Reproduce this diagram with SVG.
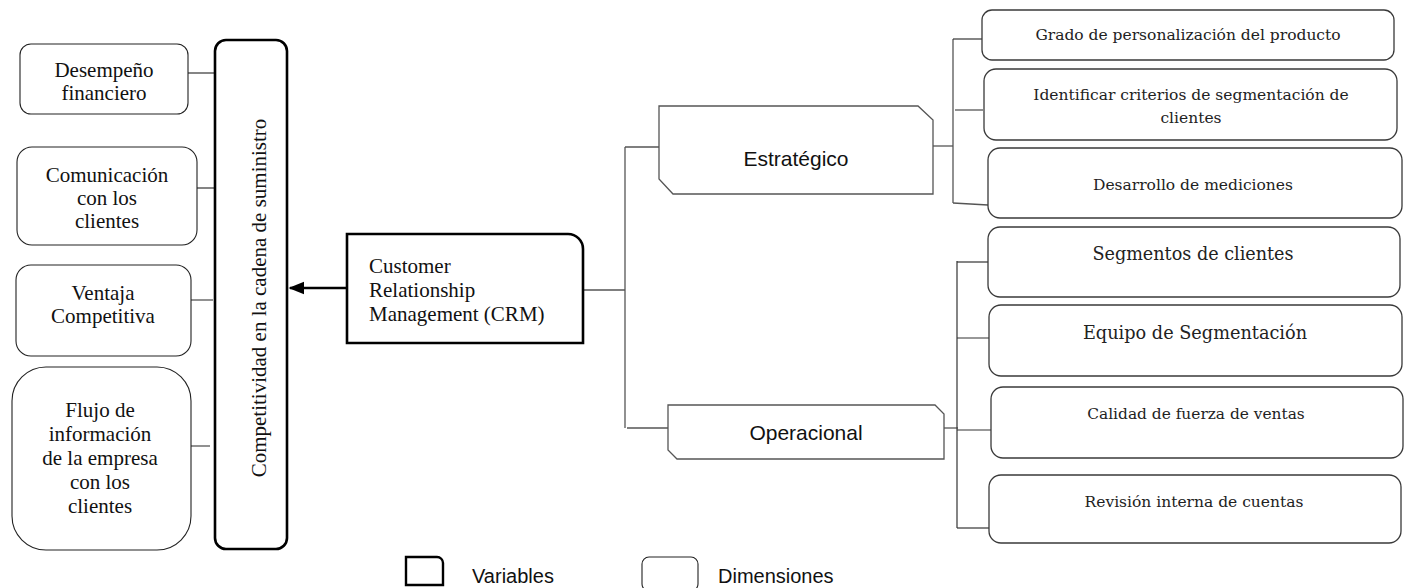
<svg xmlns="http://www.w3.org/2000/svg" width="1409" height="588" viewBox="0 0 1409 588">
<style>
.dim{fill:#fff;stroke:#222;stroke-width:1.1}
.dimr{fill:#fff;stroke:#3a3a3a;stroke-width:1.3}
.var{fill:#fff;stroke:#000;stroke-width:2.6}
.hex{fill:#fff;stroke:#555;stroke-width:1.3}
.tm{font-family:"Liberation Serif","Times New Roman",serif;font-size:21px;fill:#111}
.ar{font-family:"Liberation Sans",Arial,sans-serif;fill:#111}
.cb{font-family:"DejaVu Serif","Liberation Serif",serif;fill:#222;text-anchor:middle}
.c{text-anchor:middle}
.ln{stroke:#333;stroke-width:1.2;fill:none}
.lg{stroke:#555;stroke-width:1.3;fill:none}
</style>
<defs>
<marker id="ah" viewBox="0 0 10 10" refX="9" refY="5" markerWidth="6" markerHeight="6" orient="auto" markerUnits="strokeWidth">
<path d="M0,1 L10,5 L0,9 z" fill="#000"/>
</marker>
</defs>
<rect width="1409" height="588" fill="#fff"/>

<g id="connectors">
<line class="ln" x1="188" y1="73" x2="215" y2="73"/>
<line class="ln" x1="194" y1="188" x2="217" y2="188"/>
<line class="lg" x1="188" y1="300" x2="213" y2="300"/>
<line class="lg" x1="185" y1="446" x2="210" y2="446"/>
<line x1="347" y1="288" x2="290" y2="288" stroke="#000" stroke-width="2.6" marker-end="url(#ah)"/>
<line class="lg" x1="583" y1="290" x2="625" y2="290"/>
<line class="lg" x1="625" y1="147" x2="625" y2="428"/>
<line class="lg" x1="625" y1="147" x2="659" y2="147"/>
<line class="lg" x1="627" y1="428" x2="668" y2="428"/>
<line class="lg" x1="933" y1="146" x2="953" y2="146"/>
<line class="lg" x1="953" y1="39" x2="953" y2="203"/>
<line class="ln" x1="953" y1="39" x2="983" y2="39"/>
<line class="lg" x1="955" y1="110" x2="983" y2="110"/>
<line class="lg" x1="953" y1="203" x2="988" y2="205"/>
<line class="lg" x1="944" y1="428" x2="958" y2="428"/>
<line class="ln" x1="957" y1="261" x2="957" y2="528"/>
<line class="ln" x1="957" y1="262" x2="988" y2="262"/>
<line class="ln" x1="957" y1="338" x2="992" y2="338"/>
<line class="ln" x1="957" y1="430" x2="991" y2="430"/>
<line class="ln" x1="957" y1="528" x2="989" y2="528"/>
</g>

<g id="desempeno">
<rect class="dim" x="20" y="44" width="168" height="70" rx="11"/>
<text class="tm c" x="104" y="77">Desempeño</text>
<text class="tm c" x="104" y="100">financiero</text>
</g>
<g id="comunicacion">
<rect class="dim" x="17" y="147" width="180" height="98" rx="15"/>
<text class="tm c" x="107" y="182">Comunicación</text>
<text class="tm c" x="107" y="205">con los</text>
<text class="tm c" x="107" y="228">clientes</text>
</g>
<g id="ventaja">
<rect class="dim" x="16" y="265" width="175" height="91" rx="15"/>
<text class="tm c" x="103" y="300">Ventaja</text>
<text class="tm c" x="103" y="323">Competitiva</text>
</g>
<g id="flujo">
<rect class="dim" x="12" y="367" width="179" height="183" rx="34"/>
<text class="tm c" x="100" y="417">Flujo de</text>
<text class="tm c" x="100" y="441">información</text>
<text class="tm c" x="100" y="465">de la empresa</text>
<text class="tm c" x="100" y="489">con los</text>
<text class="tm c" x="100" y="513">clientes</text>
</g>
<g id="competitividad">
<rect class="var" x="215" y="40" width="72" height="509" rx="11"/>
<text class="tm c" transform="translate(266,298) rotate(-90)">Competitividad en la cadena de suministro</text>
</g>
<g id="crm">
<path class="var" d="M347,234 H568 A15,15 0 0 1 583,249 V343 H347 Z"/>
<text class="tm" x="369" y="273">Customer</text>
<text class="tm" x="369" y="297">Relationship</text>
<text class="tm" x="369" y="321">Management (CRM)</text>
</g>
<g id="estrategico">
<path class="hex" d="M659,106 H918 L933,120 V194 H673 L659,179 Z"/>
<text class="ar c" x="796" y="166" font-size="21">Estratégico</text>
</g>
<g id="operacional">
<path class="hex" d="M668,405 H935 L944,414 V459 H677 L668,450 Z"/>
<text class="ar c" x="806" y="440" font-size="21">Operacional</text>
</g>

<g id="grado">
<rect class="dimr" x="982" y="10" width="412" height="50" rx="10"/>
<text class="cb" x="1188" y="40" font-size="15.5">Grado de personalización del producto</text>
</g>
<g id="identificar">
<rect class="dimr" x="984" y="69" width="413" height="71" rx="12"/>
<text class="cb" x="1191" y="100" font-size="15.5">Identificar criterios de segmentación de</text>
<text class="cb" x="1191" y="123" font-size="15.5">clientes</text>
</g>
<g id="desarrollo">
<rect class="dimr" x="988" y="148" width="414" height="70" rx="12"/>
<text class="cb" x="1193" y="190" font-size="15.5">Desarrollo de mediciones</text>
</g>
<g id="segmentos">
<rect class="dimr" x="988" y="227" width="412" height="70" rx="12"/>
<text class="cb" x="1193" y="260" font-size="17.6">Segmentos de clientes</text>
</g>
<g id="equipo">
<rect class="dimr" x="989" y="305" width="413" height="71" rx="12"/>
<text class="cb" x="1195" y="339" font-size="17.7">Equipo de Segmentación</text>
</g>
<g id="calidad">
<rect class="dimr" x="991" y="387" width="412" height="71" rx="12"/>
<text class="cb" x="1196" y="419" font-size="15.4">Calidad de fuerza de ventas</text>
</g>
<g id="revision">
<rect class="dimr" x="989" y="475" width="412" height="68" rx="12"/>
<text class="cb" x="1194" y="507" font-size="15.5">Revisión interna de cuentas</text>
</g>

<g id="legend">
<path d="M406,557 H437 A6,6 0 0 1 443,563 V585 H406 Z" fill="#fff" stroke="#000" stroke-width="2.4"/>
<text class="ar" x="472" y="583" font-size="20">Variables</text>
<rect x="642" y="557" width="56" height="34" rx="7" fill="#fff" stroke="#222" stroke-width="1.1"/>
<text class="ar" x="718" y="583" font-size="20">Dimensiones</text>
</g>
</svg>
